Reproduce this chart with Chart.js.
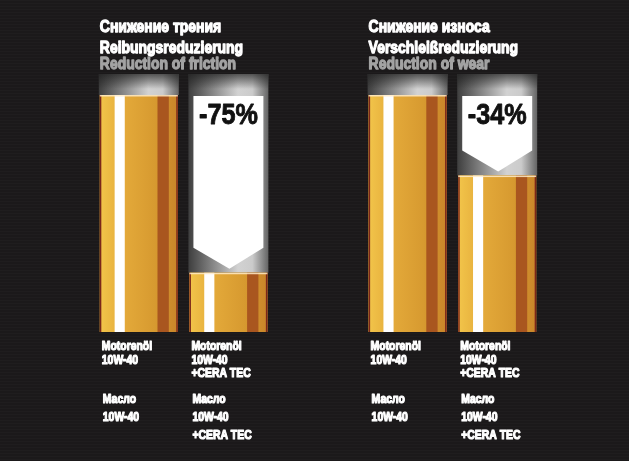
<!DOCTYPE html>
<html>
<head>
<meta charset="utf-8">
<script src="https://cdn.jsdelivr.net/npm/chart.js@4"></script>
<style>
  html, body { margin: 0; padding: 0; background: #1b191a; }
  #wrap { width: 629px; height: 461px; }
</style>
</head>
<body>
<div id="wrap"><canvas id="myChart" width="629" height="461"></canvas></div>
<script>
// data (bar height = remaining friction / wear, %)
const categories = ['oil', 'oil+cera', '', 'oil', 'oil+cera'];
const values = [100, 25, null, 100, 66];
const reductions = ['', '-75%', '', '', '-34%'];
const labelsDe = [
  ['Motorenöl', '10W-40'],
  ['Motorenöl', '10W-40', '+CERA TEC'],
  [],
  ['Motorenöl', '10W-40'],
  ['Motorenöl', '10W-40', '+CERA TEC']
];
const labelsRu = [
  ['Масло', '10W-40'],
  ['Масло', '10W-40', '+CERA TEC'],
  [],
  ['Масло', '10W-40'],
  ['Масло', '10W-40', '+CERA TEC']
];
const panelTitles = [
  ['Снижение трения', 'Reibungsreduzierung', 'Reduction of friction'],
  ['Снижение износа', 'Verschleißreduzierung', 'Reduction of wear']
];
const panelFirstBar = [0, 3];

const FONT = "'Liberation Sans', Arial, sans-serif";

// draw text squeezed horizontally and a bit heavier, like a condensed black face
function narrowText(ctx, t, x, y, sx, align, weight) {
  ctx.save();
  ctx.translate(x, y);
  ctx.scale(sx, 1);
  ctx.textAlign = align || 'left';
  ctx.strokeStyle = ctx.fillStyle;
  ctx.lineWidth = weight || 1.2;
  ctx.lineJoin = 'round';
  ctx.strokeText(t, 0, 0);
  ctx.fillText(t, 0, 0);
  ctx.restore();
}

function metal(ctx, x0, w) {
  const g = ctx.createLinearGradient(x0, 0, x0 + w, 0);
  g.addColorStop(0, '#3e3e3e');
  g.addColorStop(0.3, '#858585');
  g.addColorStop(0.62, '#d2d2d2');
  g.addColorStop(0.8, '#cbcbcb');
  g.addColorStop(1, '#646464');
  return g;
}

const tubePlugin = {
  id: 'tube',
  beforeDraw(chart) {
    const ctx = chart.ctx;
    ctx.save();
    ctx.fillStyle = '#1b191a';
    ctx.fillRect(0, 0, chart.width, chart.height);
    ctx.fillStyle = 'rgba(255,255,255,0.018)';
    for (let y = 0; y < chart.height; y += 3) ctx.fillRect(0, y, chart.width, 1);
    ctx.restore();
  },
  beforeDatasetsDraw(chart) {
    const ctx = chart.ctx;
    const top = chart.chartArea.top;
    chart.getDatasetMeta(0).data.forEach((el, i) => {
      if (values[i] == null) return;
      const x0 = el.x - el.width / 2;
      const w = el.width;
      ctx.save();
      ctx.fillStyle = metal(ctx, x0 - 1, w + 2);
      ctx.fillRect(x0 - 1, top - 21, w + 2, el.y - top + 21);
      const v = ctx.createLinearGradient(0, top - 21, 0, top - 6);
      v.addColorStop(0, 'rgba(30,30,30,0.7)');
      v.addColorStop(1, 'rgba(30,30,30,0)');
      ctx.fillStyle = v;
      ctx.fillRect(x0 - 1, top - 21, w + 2, 15);
      ctx.restore();
    });
  },
  afterDatasetsDraw(chart) {
    const ctx = chart.ctx;
    const top = chart.chartArea.top;
    const meta = chart.getDatasetMeta(0);
    meta.data.forEach((el, i) => {
      if (values[i] == null) return;
      const x0 = el.x - el.width / 2;
      const w = el.width;
      const y0 = el.y;
      const h = el.base - el.y;
      ctx.save();
      const g = ctx.createLinearGradient(x0, 0, x0 + w, 0);
      g.addColorStop(0, '#f2c54a');
      g.addColorStop(0.3, '#e4aa3a');
      g.addColorStop(0.7, '#d79a30');
      g.addColorStop(1, '#c9852a');
      ctx.fillStyle = g;
      ctx.fillRect(x0, y0, w, h);
      ctx.fillStyle = '#ffffff';
      ctx.fillRect(x0 + w * 0.19, y0, w * 0.13, h);
      ctx.fillStyle = '#a9561f';
      ctx.fillRect(x0 + w * 0.74, y0, w * 0.145, h);
      ctx.fillStyle = '#7b2619';
      ctx.fillRect(x0, y0, 1.5, h);
      ctx.fillRect(x0 + w - 1.5, y0, 1.5, h);
      ctx.fillStyle = 'rgba(255,235,200,0.85)';
      ctx.fillRect(x0, y0, w, 1.5);

      if (reductions[i]) {
        const ax0 = x0 + 4, ax1 = x0 + w - 4;
        const tipY = y0 - 4;
        const sideY = tipY - 21;
        ctx.fillStyle = '#ffffff';
        ctx.beginPath();
        ctx.moveTo(ax0, top + 1);
        ctx.lineTo(ax1, top + 1);
        ctx.lineTo(ax1, sideY);
        ctx.lineTo((ax0 + ax1) / 2 + 1, tipY);
        ctx.lineTo(ax0, sideY);
        ctx.closePath();
        ctx.fill();
        ctx.fillStyle = '#111111';
        ctx.font = 'bold 30px ' + FONT;
        narrowText(ctx, reductions[i], (ax0 + ax1) / 2, top + 29, 0.84, 'center', 0.9);
      }
      ctx.restore();
    });

    ctx.save();
    ctx.fillStyle = '#ffffff';
    ctx.textBaseline = 'alphabetic';
    ctx.font = 'bold 13px ' + FONT;
    meta.data.forEach((el, i) => {
      const lx = el.x - el.width / 2 + 2;
      labelsDe[i].forEach((t, k) => narrowText(ctx, t, lx, el.base + 18 + k * 13.5, 0.8));
      labelsRu[i].forEach((t, k) => narrowText(ctx, t, lx + 1, el.base + 71 + k * 18.2, 0.8));
    });

    const titleY = [32, 52.5, 69];
    panelTitles.forEach((lines, p) => {
      const el = meta.data[panelFirstBar[p]];
      const tx = el.x - el.width / 2;
      ctx.font = 'bold 17px ' + FONT;
      lines.forEach((t, k) => {
        ctx.fillStyle = k === 2 ? '#a3a3a3' : '#ffffff';
        narrowText(ctx, t, tx, titleY[k], 0.82, 'left', 1.3);
      });
    });
    ctx.restore();
  }
};

new Chart(document.getElementById('myChart'), {
  type: 'bar',
  data: {
    labels: categories,
    datasets: [{
      data: values,
      backgroundColor: '#e0a838',
      borderWidth: 0,
      categoryPercentage: 1,
      barPercentage: 0.87
    }]
  },
  options: {
    responsive: false,
    animation: false,
    events: [],
    layout: { padding: { left: 94, right: 87, top: 95, bottom: 129 } },
    plugins: { legend: { display: false }, tooltip: { enabled: false } },
    scales: {
      x: { display: false },
      y: { display: false, min: 0, max: 100 }
    }
  },
  plugins: [tubePlugin]
});
</script>
</body>
</html>
